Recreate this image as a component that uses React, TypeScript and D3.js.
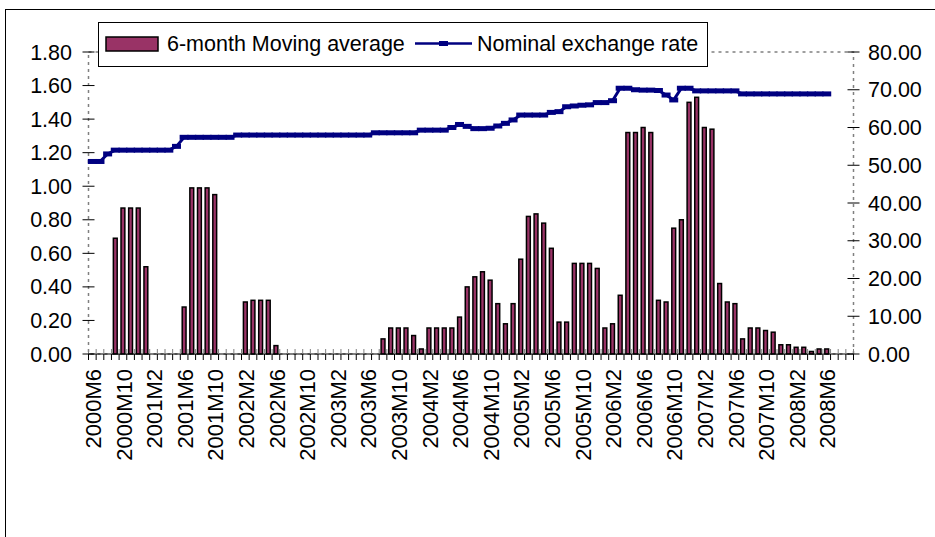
import React from "react";
import * as d3 from "d3";

// ---- data ----
const startYear = 2000;
const startMonth = 6;
const nCategories = 100;
const categories: string[] = Array.from({ length: nCategories }, (_, i) => {
  const m0 = startMonth - 1 + i;
  return `${startYear + Math.floor(m0 / 12)}M${(m0 % 12) + 1}`;
});

// 6-month moving average (left axis)
const movingAverage: (number | null)[] = [
  null, null, null, 0.69, 0.87, 0.87, 0.87, 0.52, null, null,
  null, null, 0.28, 0.99, 0.99, 0.99, 0.95, null, null, null,
  0.31, 0.32, 0.32, 0.32, 0.05, null, null, null, null, null,
  null, null, null, null, null, null, null, null, 0.09, 0.155,
  0.155, 0.155, 0.11, 0.03, 0.155, 0.155, 0.155, 0.155, 0.22, 0.40,
  0.46, 0.49, 0.44, 0.30, 0.18, 0.30, 0.565, 0.82, 0.835, 0.78,
  0.63, 0.19, 0.19, 0.54, 0.54, 0.54, 0.51, 0.155, 0.18, 0.35,
  1.32, 1.32, 1.35, 1.32, 0.32, 0.31, 0.75, 0.80, 1.50, 1.53,
  1.35, 1.34, 0.42, 0.31, 0.30, 0.09, 0.155, 0.155, 0.14, 0.13,
  0.055, 0.055, 0.04, 0.04, 0.015, 0.03, 0.03, null, null, null,
];

// Nominal exchange rate (right axis)
const exchangeRate: (number | null)[] = [
  51.0, 51.0, 53.0, 54.0, 54.0, 54.0, 54.0, 54.0, 54.0, 54.0,
  54.0, 55.0, 57.4, 57.4, 57.4, 57.4, 57.4, 57.4, 57.4, 58.0,
  58.0, 58.0, 58.0, 58.0, 58.0, 58.0, 58.0, 58.0, 58.0, 58.0,
  58.0, 58.0, 58.0, 58.0, 58.0, 58.0, 58.0, 58.6, 58.6, 58.6,
  58.6, 58.6, 58.6, 59.3, 59.3, 59.3, 59.3, 60.0, 60.8, 60.3,
  59.7, 59.7, 59.8, 60.4, 61.1, 62.0, 63.3, 63.3, 63.3, 63.3,
  64.0, 64.2, 65.5, 65.7, 65.9, 66.0, 66.6, 66.6, 67.1, 70.4,
  70.4, 70.0, 69.9, 69.9, 69.8, 68.6, 67.3, 70.4, 70.4, 69.7,
  69.7, 69.7, 69.7, 69.7, 69.7, 68.9, 68.9, 68.9, 68.9, 68.9,
  68.9, 68.9, 68.9, 68.9, 68.9, 68.9, 68.9, null, null, null,
];

const leftTicks = [0, 0.2, 0.4, 0.6, 0.8, 1.0, 1.2, 1.4, 1.6, 1.8];
const rightTicks = [0, 10, 20, 30, 40, 50, 60, 70, 80];
const seriesNames = ["6-month Moving average", "Nominal exchange rate"];

// ---- layout ----
const W = 935;
const H = 537;
const plotLeft = 88.5;
const plotRight = 853.5;
const plotTop = 52;
const plotBottom = 354;
const FONT = "'Liberation Sans', Arial, sans-serif";
const FS = 21.5;
const barFill = "#993366";
const lineColor = "#000080";

export default function App() {
  const x = d3.scaleBand<number>().domain(d3.range(nCategories)).range([plotLeft, plotRight]).padding(0);
  const yL = d3.scaleLinear().domain([0, 1.8]).range([plotBottom, plotTop]);
  const yR = d3.scaleLinear().domain([0, 80]).range([plotBottom, plotTop]);
  const bw = x.bandwidth();
  const barW = bw * 0.5;
  const cx = (i: number) => (x(i) as number) + bw / 2;

  const linePts = exchangeRate
    .map((v, i) => ({ v, i }))
    .filter((d) => d.v !== null) as { v: number; i: number }[];
  const lineGen = d3
    .line<{ v: number; i: number }>()
    .x((d) => cx(d.i))
    .y((d) => yR(d.v));

  const catTicks = d3.range(nCategories + 1).map((k) => plotLeft + k * bw);

  return (
    <svg
      width={W}
      height={H}
      style={{ position: "absolute", left: 0, top: 0, background: "#fff" }}
      fontFamily={FONT}
    >
      <rect x={0} y={0} width={W} height={H} fill="#fff" />
      {/* outer chart frame */}
      <rect x={5.5} y={9.5} width={1200} height={1200} fill="none" stroke="#000" strokeWidth={1} />

      {/* plot area border (dashed gray) */}
      <rect
        x={plotLeft}
        y={plotTop}
        width={plotRight - plotLeft}
        height={plotBottom - plotTop}
        fill="none"
        stroke="#808080"
        strokeWidth={1.5}
        strokeDasharray="3,4"
      />

      {/* bars */}
      {movingAverage.map((v, i) =>
        v === null ? null : (
          <rect
            key={`b${i}`}
            x={cx(i) - barW / 2}
            y={yL(v)}
            width={barW}
            height={plotBottom - yL(v)}
            fill={barFill}
            stroke="#000"
            strokeWidth={1.5}
          />
        )
      )}

      {/* category axis */}
      <line x1={plotLeft} x2={plotRight} y1={plotBottom} y2={plotBottom} stroke="#000" strokeWidth={1.2} />
      {catTicks.map((tx, k) => (
        <g key={`ct${k}`}>
          <line x1={tx} x2={tx} y1={plotBottom - 5} y2={plotBottom} stroke="#808080" strokeWidth={1} />
          <line x1={tx} x2={tx} y1={plotBottom} y2={plotBottom + 6} stroke="#000" strokeWidth={1} />
        </g>
      ))}
      {categories.map((c, i) =>
        i % 4 === 0 ? (
          <text
            key={`cl${i}`}
            transform={`translate(${cx(i) + 1},${369}) rotate(-90)`}
            textAnchor="end"
            dy="0.35em"
            fontSize={22}
            fill="#000"
          >
            {c}
          </text>
        ) : null
      )}

      {/* left axis */}
      {leftTicks.map((t) => (
        <g key={`lt${t}`}>
          <line x1={plotLeft - 6} x2={plotLeft + 6} y1={yL(t)} y2={yL(t)} stroke="#000" strokeWidth={1} />
          <text x={72} y={yL(t)} dy="0.35em" textAnchor="end" fontSize={FS} fill="#000">
            {d3.format(".2f")(t)}
          </text>
        </g>
      ))}

      {/* right axis */}
      {rightTicks.map((t) => (
        <g key={`rt${t}`}>
          <line x1={plotRight - 6} x2={plotRight + 6} y1={yR(t)} y2={yR(t)} stroke="#000" strokeWidth={1} />
          <text x={868} y={yR(t)} dy="0.35em" textAnchor="start" fontSize={FS} fill="#000">
            {d3.format(".2f")(t)}
          </text>
        </g>
      ))}

      {/* exchange rate line */}
      <path d={lineGen(linePts) || ""} fill="none" stroke={lineColor} strokeWidth={3} />
      {linePts.map((d) => (
        <rect
          key={`m${d.i}`}
          x={cx(d.i) - 4.5}
          y={yR(d.v) - 2.5}
          width={9}
          height={5}
          fill={lineColor}
        />
      ))}

      {/* legend */}
      <g>
        <rect x={98.5} y={22.5} width={609} height={44} fill="#fff" stroke="#000" strokeWidth={1} />
        <rect x={106} y={37} width={52} height={14} fill={barFill} stroke="#000" strokeWidth={1.5} />
        <text x={167} y={43.5} dy="0.35em" fontSize={FS} fill="#000">
          {seriesNames[0]}
        </text>
        <line x1={415} x2={472} y1={43.5} y2={43.5} stroke={lineColor} strokeWidth={2.5} />
        <rect x={439} y={41} width={9} height={5} fill={lineColor} />
        <text x={477} y={43.5} dy="0.35em" fontSize={FS} fill="#000">
          {seriesNames[1]}
        </text>
      </g>
    </svg>
  );
}
